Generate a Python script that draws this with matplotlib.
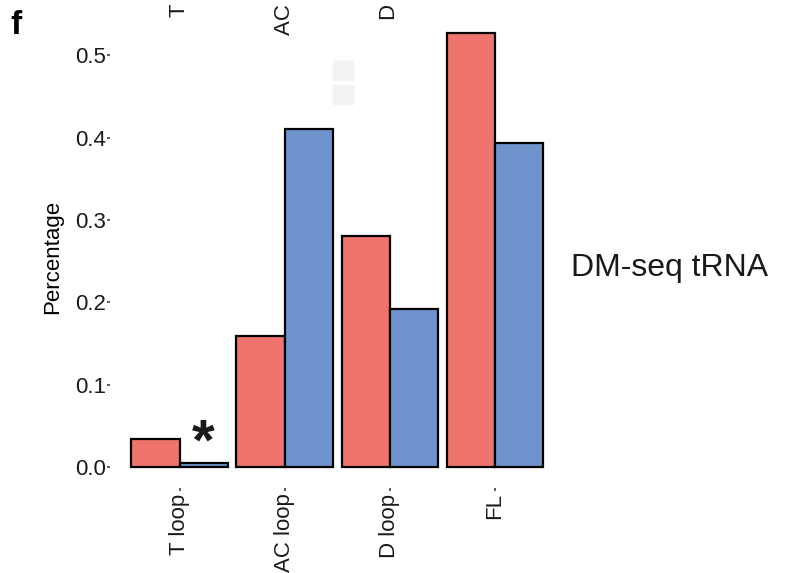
import numpy as np
import matplotlib
matplotlib.use('Agg')
from matplotlib import pyplot as plt
from matplotlib.patches import Rectangle

plt.rcParams['font.family'] = ['Liberation Sans', 'DejaVu Sans']

# --- data
categories = ['T loop', 'AC loop', 'D loop', 'FL']
red_vals = [0.034, 0.159, 0.280, 0.527]
blue_vals = [0.005, 0.410, 0.192, 0.394]
yticks = [0.0, 0.1, 0.2, 0.3, 0.4, 0.5]

red_col = '#F0746E'
blue_col = '#6F94CD'
txt_col = '#1a1a1a'

W, H = 786, 573
fig = plt.figure(figsize=(W / 100, H / 100), dpi=100)

# panel pixel extents (left, right); top/bottom shared
panels_px = [(131, 228), (236, 333), (342, 438), (447, 543)]
top_px, bot_px = 33, 467

ymax = max(max(red_vals), max(blue_vals))

axes = []
for i, cat in enumerate(categories):
    l, r = panels_px[i]
    ax = fig.add_axes([l / W, (H - bot_px) / H, (r - l) / W, (bot_px - top_px) / H])
    ax.bar([-0.5], [red_vals[i]], width=1, color=red_col, edgecolor='black',
           linewidth=1.6, clip_on=False)
    ax.bar([0.5], [blue_vals[i]], width=1, color=blue_col, edgecolor='black',
           linewidth=1.6, clip_on=False)
    ax.set_xlim(-1, 1)
    ax.set_ylim(0, ymax)
    ax.patch.set_visible(False)
    for s in ax.spines.values():
        s.set_visible(False)
    ax.spines['bottom'].set_position(('outward', 15))
    ax.spines['left'].set_position(('outward', 15))
    ax.set_xticks([0])
    ax.set_xticklabels([cat], rotation=90, fontsize=16, color=txt_col)
    ax.tick_params(axis='x', length=2, width=1.2, pad=2, colors='#444444')
    ax.tick_params(axis='x', labelcolor=txt_col)
    if i == 0:
        ax.set_yticks(yticks)
        ax.set_yticklabels([f'{v:.1f}' for v in yticks], fontsize=16, color=txt_col)
        ax.tick_params(axis='y', length=2, width=1.2, pad=1, colors='#444444')
        ax.tick_params(axis='y', labelcolor=txt_col)
        ax.set_ylabel('Percentage', fontsize=16, color='black')
        ax.yaxis.set_label_coords(-(131 - 63) / (r - l), (bot_px - 257) / (bot_px - top_px))
    else:
        ax.set_yticks([])
    # strip label, mostly cut off by the top of the figure
    fig.text((l + r) / 2 / W, (H + 44) / H, cat, rotation=90, ha='center', va='top',
             fontsize=16, color=txt_col)
    axes.append(ax)

# significance mark on T loop
axes[0].text(0.5, 0.027, '*', ha='center', va='center', fontsize=42,
             fontweight='bold', color=txt_col)

# faint legend fragments
for y0, y1 in [(61, 80), (85, 104)]:
    fig.patches.append(Rectangle((333 / W, (H - y1) / H), 20 / W, (y1 - y0) / H,
                                 transform=fig.transFigure, color='#F2F3F5'))

fig.text(10 / W, 1 - 25 / H, 'f', fontsize=24, fontweight='bold', va='center', ha='left')
fig.text(670 / W, 1 - 268 / H, 'DM-seq tRNA', fontsize=23, va='center', ha='center',
         color=txt_col)

fig.savefig('out.png', dpi=100)
